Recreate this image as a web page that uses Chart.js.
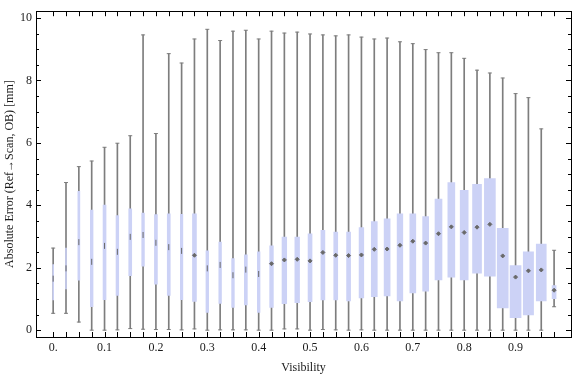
<!DOCTYPE html>
<html>
<head>
<meta charset="utf-8">
<script src="https://cdn.jsdelivr.net/npm/chart.js@4.4.0/dist/chart.umd.min.js"></script>
<style>
  html, body { margin: 0; padding: 0; background: #fff; }
  #wrap { width: 576px; height: 377px; }
</style>
</head>
<body>
<div id="wrap"><canvas id="errorChart"></canvas></div>
<script>
// box positions (visibility bins)
const visibility = [0, 0.025, 0.05, 0.075, 0.1, 0.125, 0.15, 0.175, 0.2, 0.225,
    0.25, 0.275, 0.3, 0.325, 0.35, 0.375, 0.4, 0.425, 0.45, 0.475,
    0.5, 0.525, 0.55, 0.575, 0.6, 0.625, 0.65, 0.675, 0.7, 0.725,
    0.75, 0.775, 0.8, 0.825, 0.85, 0.875, 0.9, 0.925, 0.95, 0.975];

const whiskerLow = [0.54, 0.54, 0.26, 0.00, 0.00, 0.01, 0.05, 0.03, 0.02, 0.02,
    0.01, 0.04, 0.00, 0.01, 0.01, 0.01, 0.00, 0.00, 0.04, 0.04,
    0.00, 0.02, 0.01, 0.00, 0.01, 0.00, 0.00, 0.00, 0.00, 0.00,
    0.00, 0.00, 0.00, 0.00, 0.00, 0.00, 0.00, 0.00, 0.00, 0.75];
const quartile1 = [0.97, 1.32, 1.60, 0.75, 0.98, 1.11, 1.75, 2.05, 1.47, 1.11,
    0.98, 0.92, 0.57, 0.86, 0.73, 0.81, 0.57, 0.73, 0.85, 0.88,
    0.91, 0.97, 0.97, 0.94, 1.03, 1.07, 1.10, 0.94, 1.19, 1.25,
    1.61, 1.70, 1.61, 1.83, 1.73, 0.71, 0.40, 0.49, 0.94, 1.01];
const medians = [1.65, 1.98, 2.82, 2.19, 2.70, 2.51, 2.99, 3.05, 2.80, 2.66,
    2.54, 2.40, 1.98, 2.09, 1.76, 1.94, 1.80, 2.13, 2.25, 2.27,
    2.22, 2.49, 2.40, 2.39, 2.41, 2.59, 2.60, 2.72, 2.85, 2.79,
    3.09, 3.31, 3.13, 3.30, 3.39, 2.38, 1.70, 1.90, 1.93, 1.28];
const quartile3 = [2.10, 2.63, 4.45, 3.85, 4.01, 3.67, 3.89, 3.75, 3.70, 3.73,
    3.71, 3.73, 2.54, 2.82, 2.29, 2.41, 2.51, 2.70, 2.98, 2.98,
    3.09, 3.20, 3.14, 3.14, 3.29, 3.48, 3.57, 3.73, 3.73, 3.64,
    4.20, 4.73, 4.48, 4.67, 4.86, 3.26, 2.07, 2.51, 2.76, 1.43];
const whiskerHigh = [2.63, 4.73, 5.24, 5.42, 5.86, 5.99, 6.23, 9.46, 6.30, 8.86,
    8.56, 9.33, 9.64, 9.28, 9.58, 9.61, 9.33, 9.58, 9.52, 9.55,
    9.49, 9.46, 9.43, 9.46, 9.39, 9.33, 9.36, 9.24, 9.18, 8.99,
    8.89, 8.89, 8.71, 8.33, 8.24, 8.08, 7.58, 7.45, 6.45, 2.56];

const xTickValues = [0, 0.1, 0.2, 0.3, 0.4, 0.5, 0.6, 0.7, 0.8, 0.9];
const xTickLabels = ['0.', '0.1', '0.2', '0.3', '0.4', '0.5', '0.6', '0.7', '0.8', '0.9'];
const yTickValues = [0, 2, 4, 6, 8, 10];

// styling: box width in px as drawn in the original
const boxWidths = [1, 1, 2, 2.7, 3, 2.7, 3, 2.7, 3, 3,
    2.5, 4, 2.7, 2.7, 2.7, 3, 2.7, 3.7, 4.7, 4.7,
    4, 4, 4, 4, 4.7, 6, 6, 5.7, 6, 6,
    7, 7, 8, 9, 11, 11, 11, 10.3, 10, 4];

const boxColor = 'rgb(204, 210, 246)';
const whiskerColor = 'rgb(125, 125, 125)';
const medianColor = 'rgb(105, 105, 105)';
const textColor = '#1a1a1a';
const serif = { family: "'Liberation Serif', 'Times New Roman', serif", size: 12 };

const datasets = [];

// medians
datasets.push({
    type: 'scatter',
    data: visibility.map((v, i) => ({ x: v, y: medians[i] })),
    pointStyle: ctx => boxWidths[ctx.dataIndex] < 3.5 ? 'line' : 'rectRot',
    rotation: ctx => boxWidths[ctx.dataIndex] < 3.5 ? 90 : 0,
    radius: ctx => boxWidths[ctx.dataIndex] < 3.5 ? 3 : 2,
    backgroundColor: medianColor,
    borderColor: medianColor,
    borderWidth: 1,
    order: 0
});

// whisker caps
datasets.push({
    type: 'scatter',
    data: visibility.flatMap((v, i) => [{ x: v, y: whiskerLow[i] }, { x: v, y: whiskerHigh[i] }]),
    pointStyle: 'line',
    radius: 2,
    borderColor: whiskerColor,
    borderWidth: 1,
    order: 1
});

// boxes, one dataset each so every box keeps its own width
visibility.forEach((v, i) => {
    datasets.push({
        type: 'bar',
        data: [{ x: v, y: [quartile1[i], quartile3[i]] }],
        barThickness: boxWidths[i],
        backgroundColor: boxColor,
        grouped: false,
        order: 2
    });
});

// whiskers
datasets.push({
    type: 'bar',
    data: visibility.map((v, i) => ({ x: v, y: [whiskerLow[i], whiskerHigh[i]] })),
    barThickness: 1,
    backgroundColor: whiskerColor,
    grouped: false,
    order: 3
});

// tick marks point inward, like the original frame
const innerTicks = {
    id: 'innerTicks',
    afterDraw(chart) {
        const { ctx, chartArea: area, scales } = chart;
        ctx.save();
        ctx.strokeStyle = '#000';
        ctx.lineWidth = 1;
        ctx.beginPath();
        visibility.forEach(v => {
            const px = Math.round(scales.x.getPixelForValue(v)) + 0.5;
            ctx.moveTo(px, area.bottom);
            ctx.lineTo(px, area.bottom - 5);
            ctx.moveTo(px, area.top);
            ctx.lineTo(px, area.top + 5);
        });
        for (let k = 0; k <= 20; k++) {
            const v = k / 2;
            const len = yTickValues.includes(v) ? 5 : 3;
            const py = Math.round(scales.y.getPixelForValue(v)) + 0.5;
            ctx.moveTo(area.left, py);
            ctx.lineTo(area.left + len, py);
            ctx.moveTo(area.right, py);
            ctx.lineTo(area.right - len, py);
        }
        ctx.stroke();
        ctx.restore();
    }
};

const errorChart = new Chart(document.getElementById('errorChart').getContext('2d'), {
    type: 'bar',
    data: { datasets: datasets },
    plugins: [innerTicks],
    options: {
        responsive: true,
        maintainAspectRatio: false,
        animation: false,
        layout: { padding: { top: 4, right: 1, left: 0, bottom: 0 } },
        plugins: {
            legend: { display: false },
            tooltip: { enabled: false }
        },
        scales: {
            x: {
                type: 'linear',
                position: 'bottom',
                min: -0.0334,
                max: 1.0079,
                offset: false,
                afterBuildTicks: s => { s.ticks = xTickValues.map(v => ({ value: v })); },
                afterFit: s => { s.height = 40; },
                grid: { display: false, drawTicks: false },
                border: { display: true, color: '#000', width: 1 },
                ticks: {
                    autoSkip: false,
                    maxRotation: 0,
                    padding: 4,
                    color: textColor,
                    font: serif,
                    callback: (value, index) => xTickLabels[index]
                },
                title: {
                    display: true,
                    text: 'Visibility',
                    color: textColor,
                    font: serif,
                    padding: { top: 0, bottom: 2 }
                }
            },
            x2: {
                type: 'linear',
                position: 'top',
                min: -0.0334,
                max: 1.0079,
                afterFit: s => { s.height = 0; },
                grid: { display: false, drawTicks: false },
                border: { display: true, color: '#000', width: 1 },
                ticks: { display: false }
            },
            y: {
                type: 'linear',
                position: 'left',
                min: -0.219,
                max: 10.22,
                afterBuildTicks: s => { s.ticks = yTickValues.map(v => ({ value: v })); },
                afterFit: s => { s.width = 36; },
                grid: { display: false, drawTicks: false },
                border: { display: true, color: '#000', width: 1 },
                ticks: {
                    padding: 4,
                    color: textColor,
                    font: serif,
                    callback: value => String(value)
                },
                title: {
                    display: true,
                    text: 'Absolute Error (Ref\u2192Scan, OB) [mm]',
                    color: textColor,
                    font: serif,
                    padding: { top: 3, bottom: 0 }
                }
            },
            y2: {
                type: 'linear',
                position: 'right',
                min: -0.219,
                max: 10.22,
                afterFit: s => { s.width = 0; },
                grid: { display: false, drawTicks: false },
                border: { display: true, color: '#000', width: 1 },
                ticks: { display: false }
            }
        }
    }
});
</script>
</body>
</html>
